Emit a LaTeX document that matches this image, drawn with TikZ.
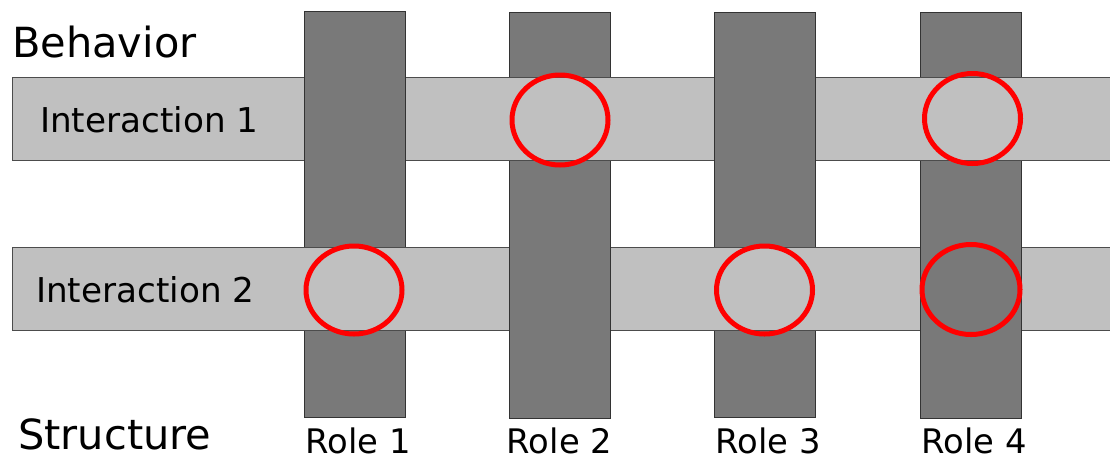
\documentclass[tikz,border=0pt]{standalone}
\usepackage{fontspec}
\setmainfont{DejaVu Sans}
\definecolor{rolegray}{HTML}{797979}
\definecolor{intgray}{HTML}{C0C0C0}
\definecolor{ringred}{HTML}{FF0000}
\tikzset{
  rolebar/.style={fill=rolegray,draw=black!80,line width=1pt},
  intbar/.style={fill=intgray,draw=black!70,line width=1pt},
  ring/.style={draw=ringred,line width=5pt},
  bigtext/.style={font=\fontsize{41.5}{48}\selectfont,anchor=base west,inner sep=0pt,text depth=0pt},
  inttext/.style={font=\fontsize{34.2}{40}\selectfont,anchor=base west,inner sep=0pt},
  roletext/.style={font=\fontsize{33.8}{40}\selectfont,anchor=base,inner sep=0pt,text depth=0pt}
}
\newcommand{\rolefront}[4]{% x1 x2 y1 y2 : role bar passes over interaction bar
  \fill[rolegray] (#1,#3-1) rectangle (#2,#4+1);
  \draw[black!80,line width=1pt] (#1,#3-1) -- (#1,#4+1) (#2,#3-1) -- (#2,#4+1);
}
\begin{document}
\begin{tikzpicture}[x=1pt,y={(0,-1pt)}]
\useasboundingbox (0,0) rectangle (1110,459);
% role bars
\draw[rolebar] (304.5,11) rectangle (405.5,417);
\draw[rolebar] (509.5,12) rectangle (610.5,418);
\draw[rolebar] (714.5,12) rectangle (815.5,417);
\draw[rolebar] (920.5,12) rectangle (1021.5,418);
% interaction bars
\draw[intbar] (12.5,77) rectangle (1115,160.5);
\draw[intbar] (12.5,247) rectangle (1115,330);
% roles passing over interactions
\rolefront{304.5}{405.5}{77}{160.5}
\rolefront{714.5}{815.5}{77}{160.5}
\rolefront{509.5}{610.5}{247}{330}
\rolefront{920.5}{1021.5}{247}{330}
% rings
\draw[ring] (560,120) ellipse [x radius=48, y radius=45];
\draw[ring] (972.5,118.5) ellipse [x radius=48, y radius=45];
\draw[ring] (354,290) ellipse [x radius=48, y radius=44];
\draw[ring] (764.5,290) ellipse [x radius=48, y radius=44];
\draw[ring] (971,289.5) ellipse [x radius=49, y radius=45];
% texts
\node[bigtext] (behavior) at (12,57) {Behavior};
\node[bigtext] (structure) at (18,449) {Structure};
\node[inttext] (int1) at (40,132.5) {Interaction 1};
\node[inttext] (int2) at (36,302) {Interaction 2};
\node[roletext] (role1) at (358,453) {Role 1};
\node[roletext] (role2) at (559.5,453) {Role 2};
\node[roletext] (role3) at (768,453) {Role 3};
\node[roletext] (role4) at (974,453) {Role 4};
\end{tikzpicture}
\end{document}
